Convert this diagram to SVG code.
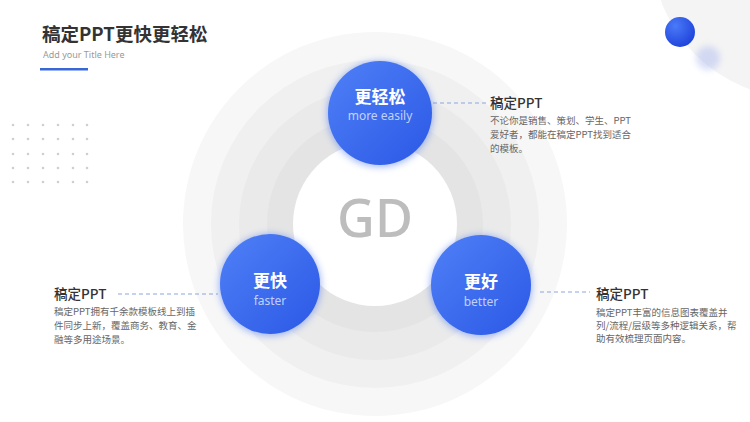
<svg xmlns="http://www.w3.org/2000/svg" width="750" height="422" viewBox="0 0 750 422">
<defs>
<style>
.cjk{font-family:"Noto Sans CJK SC","Noto Sans",sans-serif;}
.en{font-family:"Noto Sans","Liberation Sans",sans-serif;}
.h{font-size:13.5px;font-weight:500;fill:#333;}
.d{font-size:9.5px;fill:#666;}
.ct{font-size:17px;font-weight:700;fill:#fff;}
.cs{font-size:12px;fill:#fff;fill-opacity:0.7;}
.dash{stroke:#8ea5dc;stroke-width:1;stroke-dasharray:4 3;fill:none;}
.dot{fill:#cfcfcf;}
</style>
<linearGradient id="bg" x1="0" y1="0" x2="1" y2="1">
<stop offset="0" stop-color="#4f80f6"/>
<stop offset="1" stop-color="#2b58e6"/>
</linearGradient>
<radialGradient id="ball" cx="0.35" cy="0.3" r="0.8">
<stop offset="0" stop-color="#4a7af8"/>
<stop offset="1" stop-color="#1b3fd9"/>
</radialGradient>
<filter id="sh" x="-40%" y="-40%" width="180%" height="180%">
<feGaussianBlur in="SourceGraphic" stdDeviation="3.5"/>
</filter>
<filter id="blur2" x="-60%" y="-60%" width="220%" height="220%">
<feGaussianBlur stdDeviation="3"/>
</filter>
</defs>
<rect width="750" height="422" fill="#ffffff"/>
<circle cx="800" cy="-50" r="148" fill="#f4f4f4"/>
<circle cx="680" cy="32" r="15" fill="url(#ball)"/>
<circle cx="708" cy="58" r="12" fill="#aab8ee" opacity="0.45" filter="url(#blur2)"/>
<g id="dots">
<circle class="dot" cx="13" cy="125" r="1.3"/><circle class="dot" cx="28" cy="125" r="1.3"/><circle class="dot" cx="43" cy="125" r="1.3"/><circle class="dot" cx="58" cy="125" r="1.3"/><circle class="dot" cx="73" cy="125" r="1.3"/><circle class="dot" cx="87" cy="125" r="1.3"/>
<circle class="dot" cx="13" cy="139" r="1.3"/><circle class="dot" cx="28" cy="139" r="1.3"/><circle class="dot" cx="43" cy="139" r="1.3"/><circle class="dot" cx="58" cy="139" r="1.3"/><circle class="dot" cx="73" cy="139" r="1.3"/><circle class="dot" cx="87" cy="139" r="1.3"/>
<circle class="dot" cx="13" cy="154" r="1.3"/><circle class="dot" cx="28" cy="154" r="1.3"/><circle class="dot" cx="43" cy="154" r="1.3"/><circle class="dot" cx="58" cy="154" r="1.3"/><circle class="dot" cx="73" cy="154" r="1.3"/><circle class="dot" cx="87" cy="154" r="1.3"/>
<circle class="dot" cx="13" cy="168" r="1.3"/><circle class="dot" cx="28" cy="168" r="1.3"/><circle class="dot" cx="43" cy="168" r="1.3"/><circle class="dot" cx="58" cy="168" r="1.3"/><circle class="dot" cx="73" cy="168" r="1.3"/><circle class="dot" cx="87" cy="168" r="1.3"/>
<circle class="dot" cx="13" cy="182" r="1.3"/><circle class="dot" cx="28" cy="182" r="1.3"/><circle class="dot" cx="43" cy="182" r="1.3"/><circle class="dot" cx="58" cy="182" r="1.3"/><circle class="dot" cx="73" cy="182" r="1.3"/><circle class="dot" cx="87" cy="182" r="1.3"/>
</g>
<g id="title">
<text class="cjk" x="42" y="41" font-size="18.5" font-weight="700" fill="#333">稿定PPT更快更轻松</text>
<text class="en" x="43" y="58" font-size="9" fill="#999">Add your Title Here</text>
<rect x="40" y="68" width="48" height="2.5" fill="#3a66d6"/>
</g>
<g id="rings">
<circle cx="375" cy="224" r="192" fill="#f7f7f7"/>
<circle cx="375" cy="224" r="164" fill="#f0f0f0"/>
<circle cx="375" cy="224" r="136" fill="#eaeaea"/>
<circle cx="375" cy="224" r="108" fill="#e4e4e4"/>
<circle cx="375" cy="224" r="82" fill="#ffffff"/>
<text class="en" x="375" y="237" font-size="52" font-weight="500" fill="#bdbdbd" text-anchor="middle">GD</text>
</g>
<g id="connectors">
<line class="dash" x1="433" y1="103" x2="486" y2="103"/>
<line class="dash" x1="118" y1="294" x2="218" y2="294"/>
<line class="dash" x1="540" y1="292" x2="590" y2="292"/>
</g>
<g id="node-top">
<circle cx="380" cy="114" r="53" fill="#4a74f0" opacity="0.5" filter="url(#sh)"/>
<circle cx="380" cy="113" r="52" fill="url(#bg)"/>
<text class="cjk ct" x="380" y="103" text-anchor="middle">更轻松</text>
<text class="en cs" x="380" y="120" text-anchor="middle">more easily</text>
</g>
<g id="node-left">
<circle cx="270" cy="285" r="51" fill="#4a74f0" opacity="0.5" filter="url(#sh)"/>
<circle cx="270" cy="284" r="50" fill="url(#bg)"/>
<text class="cjk ct" x="270" y="287" text-anchor="middle">更快</text>
<text class="en cs" x="270" y="305" text-anchor="middle">faster</text>
</g>
<g id="node-right">
<circle cx="481" cy="286" r="51" fill="#4a74f0" opacity="0.5" filter="url(#sh)"/>
<circle cx="481" cy="285" r="50" fill="url(#bg)"/>
<text class="cjk ct" x="481" y="288" text-anchor="middle">更好</text>
<text class="en cs" x="481" y="306" text-anchor="middle">better</text>
</g>
<g id="label-top">
<text class="cjk h" x="490" y="108">稿定PPT</text>
<text class="cjk d" x="490" y="124">不论你是销售、策划、学生、PPT</text>
<text class="cjk d" x="490" y="138">爱好者，都能在稿定PPT找到适合</text>
<text class="cjk d" x="490" y="152">的模板。</text>
</g>
<g id="label-left">
<text class="cjk h" x="54" y="299">稿定PPT</text>
<text class="cjk d" x="54" y="315">稿定PPT拥有千余款模板线上到插</text>
<text class="cjk d" x="54" y="329">件同步上新，覆盖商务、教育、金</text>
<text class="cjk d" x="54" y="343">融等多用途场景。</text>
</g>
<g id="label-right">
<text class="cjk h" x="596" y="299">稿定PPT</text>
<text class="cjk d" x="596" y="316">稿定PPT丰富的信息图表覆盖并</text>
<text class="cjk d" x="596" y="329">列/流程/层级等多种逻辑关系，帮</text>
<text class="cjk d" x="596" y="342">助有效梳理页面内容。</text>
</g>
</svg>
